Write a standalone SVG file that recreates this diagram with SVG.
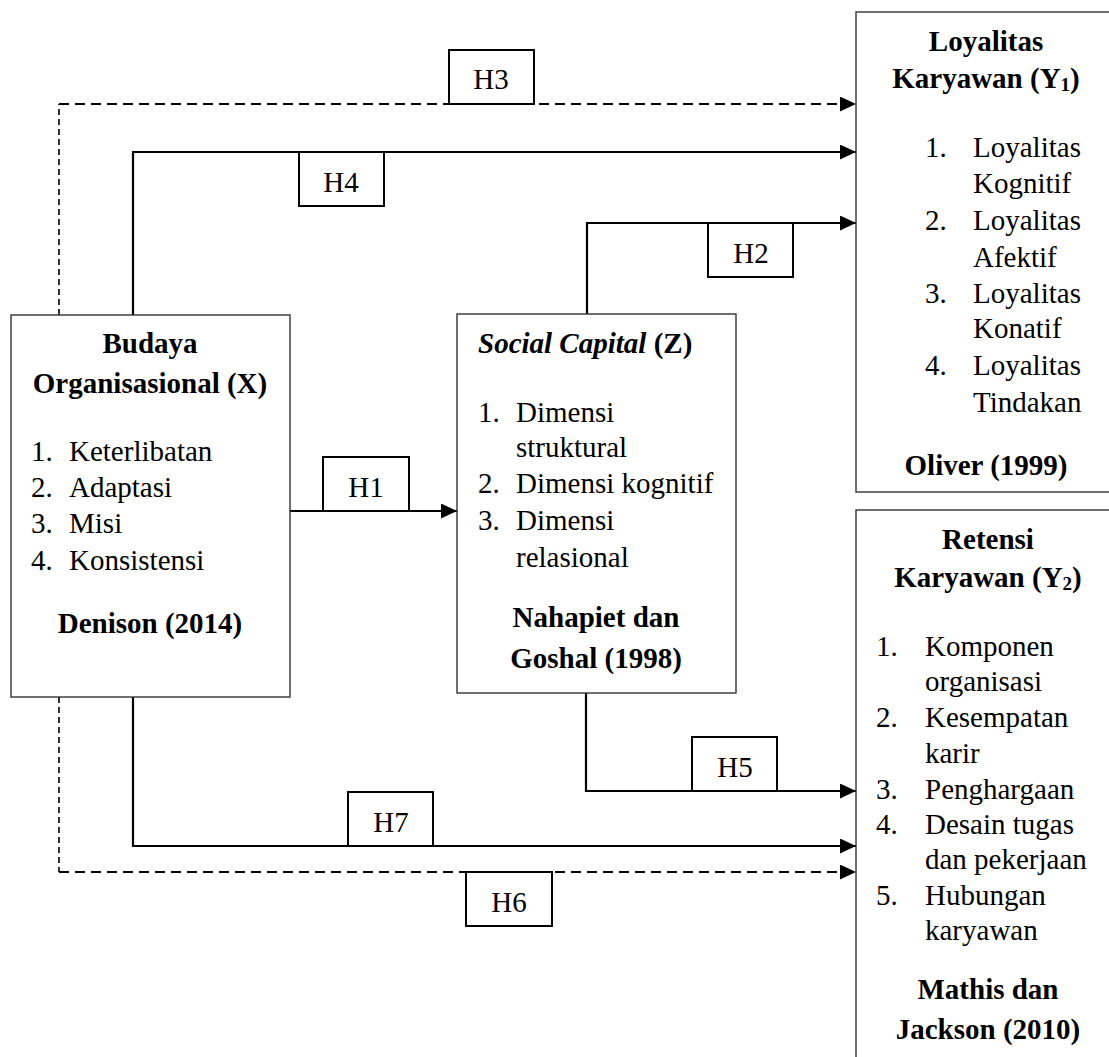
<svg xmlns="http://www.w3.org/2000/svg" width="1109" height="1057" viewBox="0 0 1109 1057">
  <style>
    text { font-family: "Liberation Serif", "Times New Roman", serif; font-size: 29px; fill: #000; }
    .b { font-weight: bold; }
    .bi { font-weight: bold; font-style: italic; }
    .mid { text-anchor: middle; }
    .node { fill: #fff; stroke: #333; stroke-width: 1.4; }
    .lab { fill: #fff; stroke: #000; stroke-width: 2; }
    .solid { fill: none; stroke: #000; stroke-width: 2.2; }
    .dash { fill: none; stroke: #000; stroke-width: 2.2; stroke-dasharray: 10 6; }
    .dashv { fill: none; stroke: #000; stroke-width: 1.6; stroke-dasharray: 6 4; }
  </style>
  <defs>
    <marker id="arrow" markerUnits="userSpaceOnUse" markerWidth="16" markerHeight="16" refX="16" refY="7.5" orient="auto">
      <path d="M0,0 L16,7.5 L0,15 Z" fill="#000"/>
    </marker>
  </defs>
  <rect width="1109" height="1057" fill="#fff"/>

  <!-- connectors -->
  <g id="connectors">
    <!-- H3: X -> Y1 (dashed) -->
    <path class="dashv" d="M59,315 V104"/>
    <path class="dash" d="M59,104 H856" marker-end="url(#arrow)"/>
    <!-- H4: X -> Y1 -->
    <path class="solid" d="M133,315 V152 H856" marker-end="url(#arrow)"/>
    <!-- H2: Z -> Y1 -->
    <path class="solid" d="M587,314 V223 H856" marker-end="url(#arrow)"/>
    <!-- H1: X -> Z -->
    <path class="solid" d="M290,511 H457" marker-end="url(#arrow)"/>
    <!-- H5: Z -> Y2 -->
    <path class="solid" d="M586,693 V791 H856" marker-end="url(#arrow)"/>
    <!-- H7: X -> Y2 -->
    <path class="solid" d="M133,697 V846 H856" marker-end="url(#arrow)"/>
    <!-- H6: X -> Y2 (dashed) -->
    <path class="dashv" d="M59,697 V872"/>
    <path class="dash" d="M59,872 H856" marker-end="url(#arrow)"/>
  </g>

  <!-- hypothesis labels -->
  <g id="label-h3"><rect class="lab" x="449" y="50" width="85" height="54"/><text class="mid" x="491" y="89">H3</text></g>
  <g id="label-h4"><rect class="lab" x="299" y="152" width="85" height="54"/><text class="mid" x="341" y="192">H4</text></g>
  <g id="label-h2"><rect class="lab" x="708" y="223" width="85" height="54"/><text class="mid" x="751" y="263">H2</text></g>
  <g id="label-h1"><rect class="lab" x="323" y="457" width="86" height="54"/><text class="mid" x="366" y="497">H1</text></g>
  <g id="label-h5"><rect class="lab" x="692" y="737" width="85" height="54"/><text class="mid" x="735" y="777">H5</text></g>
  <g id="label-h7"><rect class="lab" x="348" y="792" width="85" height="54"/><text class="mid" x="391" y="832">H7</text></g>
  <g id="label-h6"><rect class="lab" x="466" y="872" width="86" height="54"/><text class="mid" x="509" y="912">H6</text></g>

  <!-- Budaya Organisasional (X) -->
  <g id="node-x">
    <rect class="node" x="11" y="315" width="279" height="382"/>
    <text class="b mid" x="150" y="353">Budaya</text>
    <text class="b mid" x="150" y="393">Organisasional (X)</text>
    <text x="31" y="461">1.</text><text x="69" y="461">Keterlibatan</text>
    <text x="31" y="497">2.</text><text x="69" y="497">Adaptasi</text>
    <text x="31" y="533">3.</text><text x="69" y="533">Misi</text>
    <text x="31" y="570">4.</text><text x="69" y="570">Konsistensi</text>
    <text class="b mid" x="150" y="633">Denison (2014)</text>
  </g>

  <!-- Social Capital (Z) -->
  <g id="node-z">
    <rect class="node" x="457" y="314" width="279" height="379"/>
    <text x="478" y="353"><tspan class="bi">Social Capital</tspan><tspan class="b"> (Z)</tspan></text>
    <text x="478" y="422">1.</text><text x="516" y="422">Dimensi</text>
    <text x="516" y="457">struktural</text>
    <text x="478" y="493">2.</text><text x="516" y="493">Dimensi kognitif</text>
    <text x="478" y="530">3.</text><text x="516" y="530">Dimensi</text>
    <text x="516" y="567">relasional</text>
    <text class="b mid" x="596" y="627">Nahapiet dan</text>
    <text class="b mid" x="596" y="668">Goshal (1998)</text>
  </g>

  <!-- Loyalitas Karyawan (Y1) -->
  <g id="node-y1">
    <rect class="node" x="856" y="12" width="262" height="480"/>
    <text class="b mid" x="986" y="51">Loyalitas</text>
    <text class="b mid" x="986" y="88">Karyawan (Y<tspan font-size="19" dy="3">1</tspan><tspan dy="-3">)</tspan></text>
    <text x="925" y="157">1.</text><text x="973" y="157">Loyalitas</text>
    <text x="973" y="193">Kognitif</text>
    <text x="925" y="230">2.</text><text x="973" y="230">Loyalitas</text>
    <text x="973" y="267">Afektif</text>
    <text x="925" y="303">3.</text><text x="973" y="303">Loyalitas</text>
    <text x="973" y="338">Konatif</text>
    <text x="925" y="375">4.</text><text x="973" y="375">Loyalitas</text>
    <text x="973" y="412">Tindakan</text>
    <text class="b mid" x="986" y="475">Oliver (1999)</text>
  </g>

  <!-- Retensi Karyawan (Y2) -->
  <g id="node-y2">
    <rect class="node" x="856" y="510" width="262" height="560"/>
    <text class="b mid" x="988" y="549">Retensi</text>
    <text class="b mid" x="988" y="587">Karyawan (Y<tspan font-size="19" dy="3">2</tspan><tspan dy="-3">)</tspan></text>
    <text x="876" y="656">1.</text><text x="925" y="656">Komponen</text>
    <text x="925" y="691">organisasi</text>
    <text x="876" y="727">2.</text><text x="925" y="727">Kesempatan</text>
    <text x="925" y="763">karir</text>
    <text x="876" y="799">3.</text><text x="925" y="799">Penghargaan</text>
    <text x="876" y="834">4.</text><text x="925" y="834">Desain tugas</text>
    <text x="925" y="869">dan pekerjaan</text>
    <text x="876" y="905">5.</text><text x="925" y="905">Hubungan</text>
    <text x="925" y="940">karyawan</text>
    <text class="b mid" x="988" y="999">Mathis dan</text>
    <text class="b mid" x="988" y="1039">Jackson (2010)</text>
  </g>
</svg>
